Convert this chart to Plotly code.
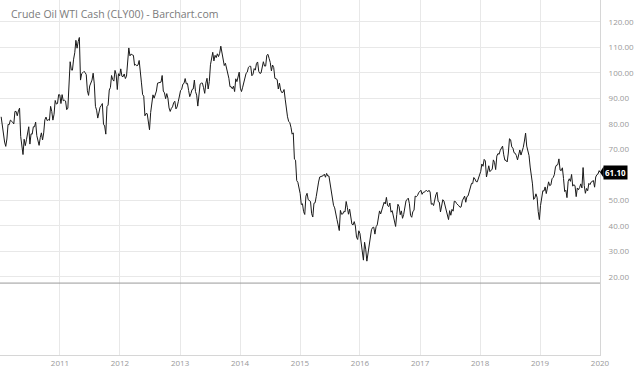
import pandas as pd
import plotly.graph_objects as go

TITLE = "Crude Oil WTI Cash (CLY00) - Barchart.com"

# Weekly closes (Fridays), one list per year
y2010 = [82.8, 79.4, 74.5, 72.9, 71.2, 74.1, 79.8, 79.7, 81.5, 81.2, 80.7, 80.0, 84.9,
         84.9, 83.2, 85.1, 86.2, 75.1, 71.6, 68.0, 74.0, 71.5, 73.8, 77.2, 78.9, 72.1,
         76.1, 76.0, 78.9, 78.9, 80.7, 75.4, 73.5, 71.6, 74.6, 76.5, 73.7, 76.5, 81.6,
         82.7, 81.3, 81.7, 81.4, 86.9, 84.9, 81.5, 83.8, 89.2, 87.8, 88.0, 91.5, 91.4]
y2011 = [88.0, 91.5, 89.1, 89.3, 89.0, 85.6, 86.2, 97.9, 104.4, 101.2, 101.1, 105.4, 107.9,
         112.8, 109.7, 112.3, 113.9, 97.2, 99.7, 100.1, 100.6, 100.2, 99.3, 93.0, 91.2, 94.9,
         96.2, 97.2, 99.9, 95.7, 86.9, 85.4, 82.3, 85.4, 86.5, 87.2, 88.0, 79.9, 79.2,
         76.0, 86.8, 87.4, 93.3, 94.3, 99.0, 97.4, 96.8, 101.0, 99.4, 93.5, 99.7, 98.8]
y2012 = [101.6, 98.7, 98.5, 99.6, 97.8, 98.7, 103.2, 109.8, 106.7, 107.4, 107.1, 106.9, 103.0,
         103.3, 102.8, 103.1, 104.9, 98.5, 96.1, 91.5, 90.9, 83.2, 84.1, 84.0, 79.8, 77.7,
         84.5, 87.1, 91.4, 90.1, 91.4, 92.9, 96.0, 96.2, 96.5, 96.4, 99.0, 92.9, 92.2,
         89.9, 91.9, 90.1, 86.3, 84.9, 86.1, 86.7, 88.3, 88.9, 85.9, 86.7, 88.7, 90.8]
y2013 = [93.1, 93.6, 95.6, 95.9, 97.8, 95.7, 95.9, 93.1, 90.7, 91.9, 93.5, 93.7, 97.2,
         92.7, 91.3, 87.0, 93.0, 95.6, 96.0, 96.0, 94.2, 92.0, 96.0, 97.9, 93.7, 96.6,
         103.2, 105.9, 108.1, 104.7, 106.9, 106.0, 107.5, 106.4, 107.7, 110.5, 108.2, 104.7, 102.9,
         103.8, 102.0, 100.8, 97.9, 94.6, 94.6, 93.8, 94.8, 92.7, 97.7, 96.6, 99.3, 100.3]
y2014 = [94.0, 92.7, 94.4, 96.6, 97.5, 99.9, 100.3, 102.2, 102.6, 102.6, 98.9, 99.5, 101.7,
         101.1, 103.7, 104.3, 100.6, 99.8, 100.0, 102.0, 104.4, 102.7, 102.7, 106.9, 107.3, 105.7,
         104.1, 100.8, 103.1, 102.1, 97.9, 97.7, 97.4, 93.7, 96.0, 93.3, 92.3, 92.4, 93.5,
         89.7, 85.8, 82.8, 81.0, 80.5, 78.7, 76.0, 76.5, 66.2, 65.8, 57.8, 57.1, 54.7]
y2015 = [52.7, 48.4, 48.7, 45.6, 44.5, 51.7, 52.8, 50.3, 49.8, 49.6, 44.8, 43.5, 48.9,
         49.1, 51.6, 55.7, 57.2, 59.2, 59.4, 59.7, 59.7, 60.3, 59.1, 60.6, 59.6, 59.6,
         56.9, 52.7, 50.9, 48.1, 47.1, 43.9, 42.5, 40.4, 38.2, 46.1, 44.6, 44.7, 45.7,
         45.5, 49.6, 47.3, 44.6, 46.6, 44.3, 40.7, 40.4, 41.7, 40.0, 35.6, 34.7, 38.1]
y2016 = [37.0, 33.2, 29.4, 26.6, 33.6, 30.9, 26.2, 29.6, 32.8, 35.9, 38.5, 39.4, 39.5,
         36.8, 39.7, 40.4, 43.7, 45.9, 44.7, 46.2, 47.8, 49.3, 48.6, 51.2, 48.0, 47.6,
         49.0, 45.4, 46.0, 44.2, 41.6, 39.8, 44.5, 48.5, 47.6, 44.4, 45.9, 43.0, 44.5,
         48.2, 49.8, 50.4, 50.9, 48.7, 44.1, 43.4, 45.7, 46.1, 51.7, 51.5, 51.9, 53.0, 53.7]
y2017 = [54.0, 52.4, 53.2, 53.2, 53.8, 53.9, 53.4, 54.0, 53.3, 48.5, 48.8, 48.0, 50.6,
         52.2, 53.2, 49.6, 49.3, 45.5, 47.8, 50.3, 49.8, 47.7, 45.8, 44.7, 42.5, 46.0,
         44.2, 46.5, 45.8, 49.7, 49.6, 48.8, 48.5, 47.9, 47.3, 47.5, 49.9, 50.7, 51.7,
         49.3, 51.5, 51.8, 53.9, 55.6, 56.7, 56.6, 59.0, 58.4, 57.4, 57.3, 58.5, 60.4]
y2018 = [61.4, 64.3, 63.4, 66.1, 65.5, 59.2, 61.7, 63.6, 61.3, 62.0, 62.3, 65.9, 64.9,
         62.1, 67.4, 68.4, 68.1, 69.7, 70.7, 71.3, 67.9, 65.8, 65.7, 65.1, 68.6, 74.2,
         73.8, 71.0, 70.5, 68.7, 68.5, 67.6, 65.9, 68.7, 69.8, 67.8, 69.0, 70.8, 73.3,
         76.4, 71.3, 69.1, 67.6, 63.1, 60.2, 56.5, 50.4, 50.9, 52.6, 51.2, 45.6, 42.5]
y2019 = [48.0, 51.6, 53.8, 53.7, 55.3, 52.7, 55.6, 57.3, 55.8, 56.1, 58.5, 59.0, 60.1,
         63.1, 63.9, 64.0, 66.3, 61.9, 61.7, 62.8, 58.6, 53.5, 54.0, 51.1, 57.4, 58.5,
         57.5, 60.2, 55.6, 56.2, 55.7, 51.5, 54.9, 54.2, 55.1, 56.5, 54.9, 62.9, 55.9,
         52.8, 54.7, 53.8, 56.7, 56.2, 57.2, 57.7, 57.8, 55.2, 59.2, 60.1, 60.4, 61.7, 61.1]

year_lists = [y2010, y2011, y2012, y2013, y2014, y2015, y2016, y2017, y2018, y2019]
first_fridays = ["2010-01-08", "2011-01-07", "2012-01-06", "2013-01-04", "2014-01-03",
                 "2015-01-02", "2016-01-01", "2017-01-06", "2018-01-05", "2019-01-04"]

dates = []
values = []
for start, vals in zip(first_fridays, year_lists):
    d = list(pd.date_range(start, periods=len(vals), freq="7D"))
    if start.startswith("2019"):
        d[-1] = pd.Timestamp("2019-12-31")
    dates.extend(d)
    values.extend(vals)

year_ticks = [f"{y}-01-01" for y in range(2011, 2021)]
year_labels = [str(y) for y in range(2011, 2021)]
price_ticks = [20, 30, 40, 50, 60, 70, 80, 90, 100, 110, 120]
# the 60.00 label is covered by the last-price tag in the reference
price_labels = ["" if v == 60 else f"{v:.2f}" for v in price_ticks]

last_value = values[-1]
pane_floor = 17.6

fig = go.Figure()
fig.add_trace(go.Scatter(x=dates, y=values, mode="lines",
                         line=dict(color="#1a1a1a", width=1), hoverinfo="skip",
                         showlegend=False))

fig.update_layout(
    width=640, height=372,
    margin=dict(l=0, r=40, t=0, b=17),
    paper_bgcolor="white", plot_bgcolor="white",
    font=dict(family="Open Sans, sans-serif", color="#999999"),
    showlegend=False,
    xaxis=dict(type="date", range=["2010-01-01", "2020-01-01"],
               tickvals=year_ticks, ticktext=year_labels,
               tickfont=dict(size=8, color="#999999"),
               showgrid=True, gridcolor="#e8e8e8", gridwidth=1,
               showline=True, linecolor="#d6d6d6", linewidth=1,
               ticks="", zeroline=False, fixedrange=True),
    yaxis=dict(side="right", range=[-10.6, 128.6],
               tickvals=price_ticks, ticktext=price_labels,
               tickfont=dict(size=8, color="#999999"),
               showgrid=True, gridcolor="#e8e8e8", gridwidth=1,
               showline=True, linecolor="#d6d6d6", linewidth=1,
               ticks="", ticklabelstandoff=6, zeroline=False, fixedrange=True),
)

# pane separator line
fig.add_shape(type="line", xref="paper", yref="y", x0=0, x1=1,
              y0=pane_floor, y1=pane_floor, line=dict(color="#9a9a9a", width=1))

# last value tag
fig.add_shape(type="path", xref="paper", yref="y",
              path=f"M 1.0 {last_value} L 1.006 {last_value + 2.2} L 1.006 {last_value - 2.2} Z",
              fillcolor="black", line=dict(color="black", width=0))
fig.add_annotation(xref="paper", yref="y", x=1.005, y=last_value, xanchor="left",
                   yanchor="middle", text=f"<b>{last_value:.2f}</b>", showarrow=False,
                   font=dict(size=8, color="white", family="Open Sans, sans-serif"),
                   bgcolor="black", borderpad=1)

fig.add_annotation(xref="paper", yref="paper", x=0, y=1, xshift=9, yshift=-5,
                   xanchor="left", yanchor="top", text=TITLE, showarrow=False,
                   font=dict(size=10.5, color="#7a7a7a", family="Open Sans, sans-serif"))

fig.write_html("out.html", config={"displayModeBar": False},
               post_script="document.body.style.margin='0px';document.body.style.overflow='hidden';")
